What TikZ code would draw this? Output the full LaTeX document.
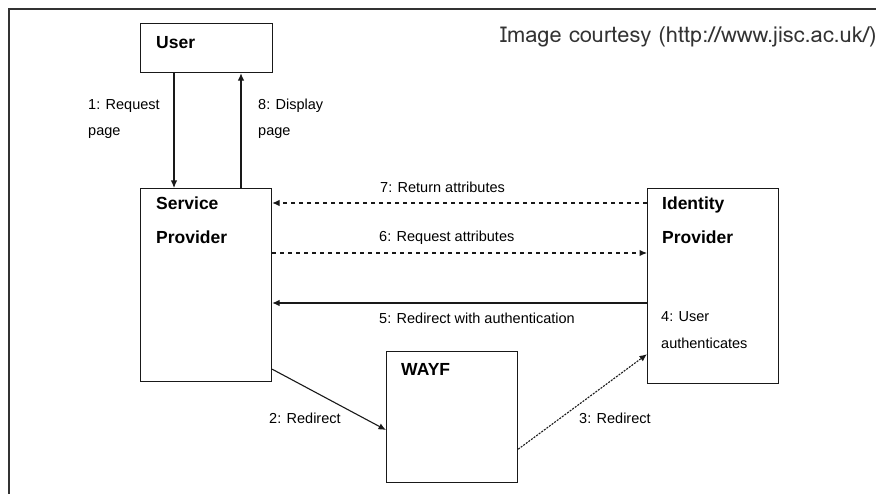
\documentclass[tikz,border=0pt]{standalone}
\usepackage{fontspec}
\setmainfont{Liberation Sans}
\newfontfamily\lomafont{Loma}
\usetikzlibrary{arrows.meta,calc}
\begin{document}
\begin{tikzpicture}[x=1pt,y=-1pt,
  box/.style={draw=black!90,line width=1.2pt,inner sep=0pt,anchor=north west},
  ttl/.style={anchor=base west,inner sep=0pt,font=\bfseries\fontsize{17.5}{20}\selectfont},
  lbl/.style={anchor=base west,inner sep=0pt,font=\fontsize{14.5}{17}\selectfont},
  arr/.style={draw=black!90,line width=1.1pt,-{Latex[length=7.5pt,width=6.5pt]}},
  dsh/.style={arr,dash pattern=on 4pt off 4pt},
  dtt/.style={arr,dash pattern=on 2pt off 1.2pt}]
\useasboundingbox (0,0) rectangle (876,494);
% frame
\draw[draw=black!80,line width=2pt] (9,494) -- (9,9) -- (880,9);
\node[anchor=base west,inner sep=0pt,text=black!80,font=\lomafont\fontsize{21.8}{26}\selectfont] (credit) at (500,43) {Image courtesy (http://www.jisc.ac.uk/)};
% boxes
\node[box,minimum width=132pt,minimum height=49pt] (user) at (140,23) {};
\node[box,minimum width=131pt,minimum height=193pt] (sp) at (140,188) {};
\node[box,minimum width=131pt,minimum height=195pt] (idp) at (647,188) {};
\node[box,minimum width=131pt,minimum height=131pt] (wayf) at (386,351) {};
% titles
\node[ttl] (tuser) at (156,49) {User};
\node[ttl] (tsp1) at (156,210) {Service};
\node[ttl] (tsp2) at (156,244) {Provider};
\node[ttl] (tidp1) at (662,210) {Identity};
\node[ttl] (tidp2) at (662,244) {Provider};
\node[ttl] (twayf) at (401,376) {WAYF};
% labels
\node[lbl] (l1a) at (88,110) {1: Request};
\node[lbl] (l1b) at (88,136) {page};
\node[lbl] (l8a) at (258,110) {8: Display};
\node[lbl] (l8b) at (258,136) {page};
\node[lbl] (l7) at (380,193) {7: Return attributes};
\node[lbl] (l6) at (379,242) {6: Request attributes};
\node[lbl] (l5) at (379,324) {5: Redirect with authentication};
\node[lbl] (l4a) at (661,322) {4: User};
\node[lbl] (l4b) at (661,349) {authenticates};
\node[lbl] (l2) at (269,423) {2: Redirect};
\node[lbl] (l3) at (579,423) {3: Redirect};
% connectors
\draw[arr] ([xshift=34pt]user.south west) -- ([xshift=34pt]sp.north west);
\draw[arr] ([xshift=101pt]sp.north west) -- ([xshift=101pt]user.south west);
\draw[dsh] ([yshift=-15pt]idp.north west) -- ([yshift=-15pt]sp.north east);
\draw[dsh] ([yshift=-65pt]sp.north east) -- ([yshift=-65pt]idp.north west);
\draw[arr] ([yshift=-115pt]idp.north west) -- ([yshift=-115pt]sp.north east);
\draw[arr] ([yshift=13pt]sp.south east) -- ([yshift=-79pt]wayf.north west);
\draw[dtt] ([yshift=34pt]wayf.south east) -- ([yshift=30pt]idp.south west);
\end{tikzpicture}
\end{document}
